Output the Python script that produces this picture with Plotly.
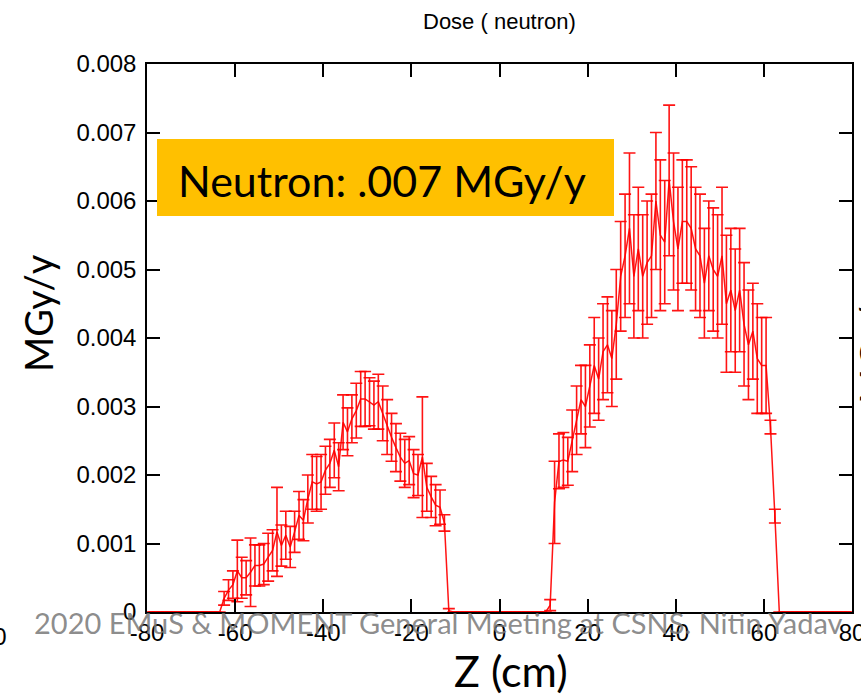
import plotly.graph_objects as go

# ---------------- data ----------------
# bin centres (1 cm bins) of the two populated regions
z_left = [-62.5 + i for i in range(52)]   # -62.5 ... -11.5
z_right = [11.5 + i for i in range(52)]   # 11.5 ... 62.5

dose_left = [0.0002, 0.00032, 0.0004, 0.0006, 0.0005, 0.0005, 0.00058, 0.00068, 0.00068, 0.0007,
             0.0008, 0.0009, 0.00117, 0.00097, 0.00112, 0.00095, 0.00117, 0.00141, 0.00134, 0.00165,
             0.0019, 0.00187, 0.0019, 0.00207, 0.00217, 0.00236, 0.00212, 0.00277, 0.00263, 0.00282,
             0.00294, 0.00311, 0.00311, 0.00307, 0.00302, 0.00307, 0.0029, 0.0027, 0.00255, 0.0024,
             0.00226, 0.00217, 0.00221, 0.00202, 0.002, 0.00226, 0.00182, 0.00168, 0.00156, 0.00153,
             0.0013, 0.00002]
err_left = [0.0001, 0.00015, 0.0002, 0.00045, 0.0003, 0.00025, 0.0005, 0.0003, 0.0003, 0.0003,
            0.00035, 0.0003, 0.00065, 0.0003, 0.00035, 0.0003, 0.0003, 0.00035, 0.0003, 0.00035,
            0.0004, 0.0004, 0.0004, 0.00035, 0.00035, 0.0004, 0.00035, 0.0004, 0.00035, 0.00035,
            0.0004, 0.0004, 0.0004, 0.00035, 0.00035, 0.0004, 0.0004, 0.0004, 0.00035, 0.00035,
            0.00035, 0.00035, 0.00035, 0.00035, 0.0003, 0.00088, 0.00035, 0.0003, 0.0003, 0.00025,
            0.00012, 0.00003]

dose_right = [0.0001, 0.0016, 0.0022, 0.00222, 0.0022, 0.0025, 0.0028, 0.0031, 0.0030, 0.0033,
              0.0036, 0.0034, 0.0038, 0.0039, 0.0037, 0.0042, 0.0049, 0.0052, 0.0056, 0.0049,
              0.0053, 0.0049, 0.0051, 0.0052, 0.0060, 0.0055, 0.0054, 0.0063, 0.0057, 0.0053,
              0.0057, 0.0057, 0.0056, 0.0053, 0.0052, 0.0048, 0.0052, 0.0050, 0.0049, 0.0052,
              0.0045, 0.0047, 0.0044, 0.0047, 0.0042, 0.0039, 0.0041, 0.0037, 0.0036, 0.0036,
              0.0027, 0.0014]
err_right = [0.00008, 0.0006, 0.0004, 0.0004, 0.00035, 0.00045, 0.0005, 0.0005, 0.0006, 0.0006,
             0.0007, 0.0006, 0.0007, 0.0007, 0.0007, 0.0008, 0.0008, 0.0009, 0.0011, 0.0009,
             0.0009, 0.0009, 0.0009, 0.0009, 0.001, 0.0011, 0.0009, 0.0011, 0.001, 0.0009,
             0.0009, 0.0009, 0.0009, 0.0009, 0.0009, 0.0008, 0.0008, 0.0009, 0.0009, 0.001,
             0.001, 0.0009, 0.0009, 0.0009, 0.0009, 0.0008, 0.0007, 0.0008, 0.0007, 0.0007,
             0.0001, 0.0001]

x_tickvals = [-80, -60, -40, -20, 0, 20, 40, 60, 80]
x_ticktext = ["-80", "-60", "-40", "-20", "0", "20", "40", "60", "80"]
y_tickvals = [0, 0.001, 0.002, 0.003, 0.004, 0.005, 0.006, 0.007, 0.008]
y_ticktext = ["0", "0.001", "0.002", "0.003", "0.004", "0.005", "0.006", "0.007", "0.008"]

# empty bins outside the two populated regions
z_empty_lo = [-79.5 + i for i in range(17)]
z_empty_mid = [-10.5 + i for i in range(22)]
z_empty_hi = [63.5 + i for i in range(17)]

z_all = z_empty_lo + z_left + z_empty_mid + z_right + z_empty_hi
dose_all = [0.0] * len(z_empty_lo) + dose_left + [0.0] * len(z_empty_mid) + dose_right + [0.0] * len(z_empty_hi)
err_all = [0.0] * len(z_empty_lo) + err_left + [0.0] * len(z_empty_mid) + err_right + [0.0] * len(z_empty_hi)

# ---------------- layout geometry ----------------
W, H = 861, 700
L, R, T, B = 147, 9, 64, 88
PW, PH = W - L - R, H - T - B


def px(x):
    return (x - L) / PW


def py(y):
    return (H - B - y) / PH


RED = "rgba(255,0,0,0.92)"

fig = go.Figure()
fig.add_trace(go.Scatter(
    x=z_all, y=dose_all, mode="lines",
    line=dict(color=RED, width=1.5),
    error_y=dict(type="data", array=err_all, visible=True, color=RED, thickness=1.6, width=6),
    showlegend=False, cliponaxis=True,
))

axis_common = dict(
    showline=True, linecolor="black", linewidth=1.5, mirror="allticks",
    ticks="inside", ticklen=13, tickwidth=1.5, tickcolor="black",
    showgrid=False, zeroline=False, ticklabeloverflow="allow", automargin=False,
    tickfont=dict(family="Liberation Sans, Arial", size=24, color="black"),
)

fig.update_layout(
    width=W, height=H,
    margin=dict(l=L, r=R, t=T, b=B, pad=0, autoexpand=False),
    paper_bgcolor="white", plot_bgcolor="white",
    xaxis=dict(range=[-80, 80], tickmode="array", tickvals=x_tickvals, ticktext=x_ticktext,
               ticklabelstandoff=-2, **axis_common),
    yaxis=dict(range=[0, 0.008], tickmode="array", tickvals=y_tickvals, ticktext=y_ticktext,
               ticklabelstandoff=4, **axis_common),
    shapes=[dict(type="rect", xref="paper", yref="paper",
                 x0=px(157), x1=px(614), y0=py(216), y1=py(139),
                 fillcolor="#FFC000", line=dict(width=0), layer="above")],
)

annotations = [
    dict(text="Dose ( neutron)", x=px(499), y=py(22), font=dict(family="Liberation Sans, Arial", size=22, color="black")),
    dict(text="Neutron: .007 MGy/y", x=px(176), y=py(180), xanchor="left",
         font=dict(family="Lato", size=43, color="black")),
    dict(text="MGy/y", x=px(38), y=py(313), textangle=-90, font=dict(family="Lato", size=38, color="black")),
    dict(text="Z (cm)", x=px(511), y=py(670), font=dict(family="Lato", size=43, color="black")),
    dict(text="2020 EMuS &amp; MOMENT General Meeting at CSNS. Nitin Yadav", x=px(438), y=py(622),
         font=dict(family="Lato", size=29, color="rgba(120,120,120,0.85)")),
    dict(text="80", x=px(9), y=py(636), xanchor="right", font=dict(family="Liberation Sans, Arial", size=24, color="black")),
    dict(text="MGy/y", x=px(873), y=py(345), textangle=-90, font=dict(family="Lato", size=38, color="black")),
]
for a in annotations:
    a.update(xref="paper", yref="paper", showarrow=False, yanchor=a.get("yanchor", "middle"),
             xanchor=a.get("xanchor", "center"))
fig.update_layout(annotations=annotations)

fig.write_html("out.html")
